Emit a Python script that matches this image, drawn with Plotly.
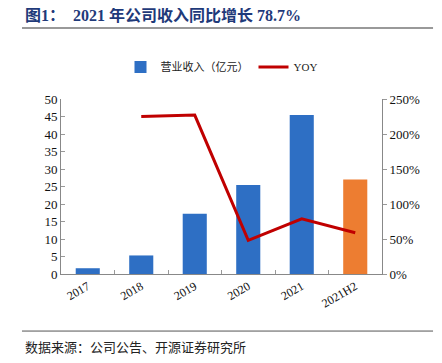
import plotly.graph_objects as go

categories = ["2017", "2018", "2019", "2020", "2021", "2021H2"]
revenue = [1.65, 5.3, 17.2, 25.4, 45.4, 27.0]
yoy = [None, 2.25, 2.27, 0.48, 0.787, 0.59]
bar_colors = ["#2E6FC4"] * 5 + ["#ED7D31"]
left_ticks = list(range(0, 55, 5))
right_ticks = [0, 0.5, 1.0, 1.5, 2.0, 2.5]

serif = "Liberation Serif, Times New Roman, Noto Sans CJK SC, serif"
cjk = "Noto Sans CJK SC, sans-serif"

fig = go.Figure()
fig.add_trace(go.Bar(
    x=categories, y=revenue, name="营业收入（亿元）",
    marker=dict(color=bar_colors, line=dict(width=0)),
    yaxis="y",
))
fig.add_trace(go.Scatter(
    x=categories, y=yoy, name="YOY", mode="lines",
    line=dict(color="#C00000", width=3),
    yaxis="y2", connectgaps=False,
))

fig.update_layout(
    width=434, height=355,
    margin=dict(l=53, r=60, t=91, b=89),
    paper_bgcolor="white", plot_bgcolor="white",
    bargap=0.55,
    showlegend=True,
    legend=dict(orientation="h", x=0.5, xanchor="center", y=1.183, yanchor="middle",
                font=dict(family=serif, size=11, color="#222"),
                itemwidth=30, traceorder="normal"),
    xaxis=dict(
        type="category", tickangle=-30, tickson="boundaries",
        ticks="inside", ticklen=4, tickcolor="#999",
        showline=True, linecolor="#888", linewidth=1,
        tickfont=dict(family=serif, size=12, color="#111"),
        showgrid=False, automargin=False,
    ),
    yaxis=dict(
        range=[0, 50], tickvals=left_ticks,
        ticks="inside", ticklen=4, tickcolor="#999",
        showline=True, linecolor="#888", linewidth=1,
        tickfont=dict(family=serif, size=13, color="#111"),
        showgrid=False, zeroline=False, automargin=False,
    ),
    yaxis2=dict(
        range=[0, 2.5], tickvals=right_ticks, tickformat=".0%",
        overlaying="y", side="right",
        ticks="outside", ticklen=4, tickcolor="#999",
        showline=True, linecolor="#888", linewidth=1,
        tickfont=dict(family=serif, size=13, color="#111"),
        showgrid=False, zeroline=False, automargin=False,
    ),
    shapes=[
        dict(type="line", xref="paper", yref="paper", x0=-0.1215, x1=1.159,
             y0=1.406, y1=1.406, line=dict(color="#999", width=2)),
        dict(type="line", xref="paper", yref="paper", x0=-0.1215, x1=1.159,
             y0=-0.326, y1=-0.326, line=dict(color="#555", width=1)),
    ],
    annotations=[
        dict(text="<b>图1：  2021 年公司收入同比增长 78.7%</b>", xref="paper", yref="paper",
             x=-0.118, y=1.48, xanchor="left", yanchor="middle", showarrow=False,
             font=dict(family=serif, size=16, color="#1F3A7A")),
        dict(text="数据来源：公司公告、开源证券研究所", xref="paper", yref="paper",
             x=-0.118, y=-0.417, xanchor="left", yanchor="middle", showarrow=False,
             font=dict(family=cjk, size=13, color="#222")),
    ],
)

fig.write_html("out.html")
